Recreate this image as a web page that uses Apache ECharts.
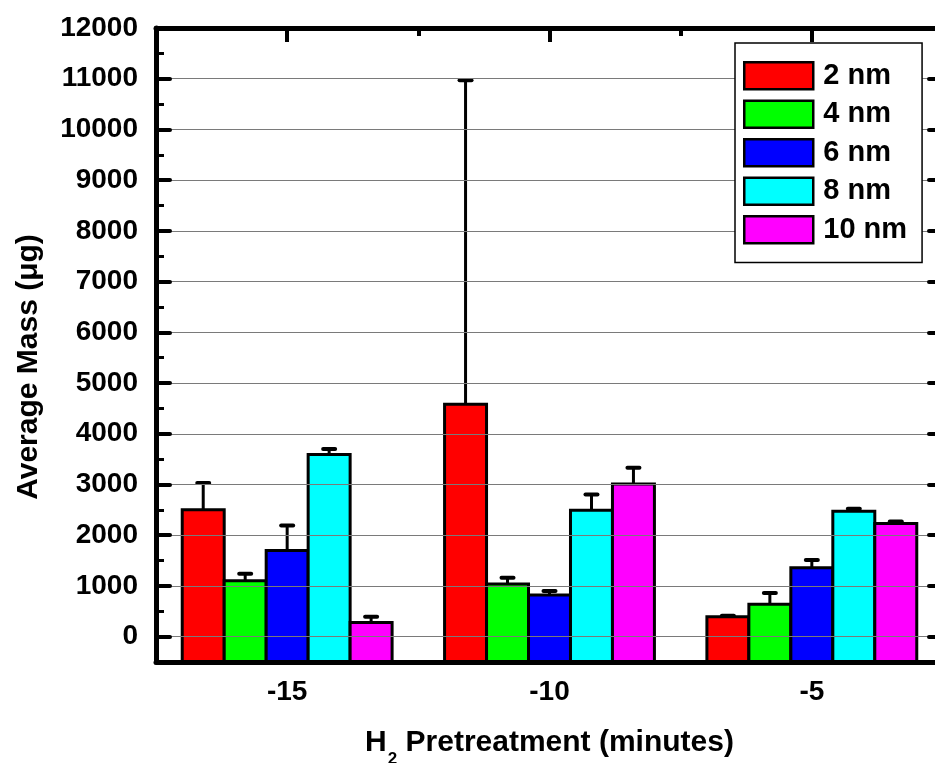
<!DOCTYPE html>
<html>
<head>
<meta charset="utf-8">
<script src="https://cdn.jsdelivr.net/npm/echarts@6/dist/echarts.min.js"></script>
<style>
  html, body { margin: 0; padding: 0; background: #fff; overflow: hidden; }
  #chart { width: 935px; height: 763px; }
</style>
</head>
<body>
<div id="chart"></div>
<script>
// Pretreatment times (minutes) on the category axis
const categories = ['-15', '-10', '-5'];

// Film thicknesses, one bar series each
const sizeNames = ['2 nm', '4 nm', '6 nm', '8 nm', '10 nm'];
const sizeColors = ['#ff0000', '#00ff00', '#0000ff', '#00ffff', '#ff00ff'];

// Average mass (µg) per pretreatment time
const mass2nm = [2500, 4580, 390];
const mass4nm = [1100, 1040, 640];
const mass6nm = [1700, 820, 1360];
const mass8nm = [3590, 2490, 2470];
const mass10nm = [280, 3010, 2230];

// Upper error (µg) per pretreatment time
const err2nm = [530, 6390, 20];
const err4nm = [140, 120, 220];
const err6nm = [490, 80, 150];
const err8nm = [110, 310, 50];
const err10nm = [110, 320, 40];

const Y_MIN = -500;
const Y_MAX = 12000;

const massSets = [mass2nm, mass4nm, mass6nm, mass8nm, mass10nm];
const errSets = [err2nm, err4nm, err6nm, err8nm, err10nm];

const FONT = "'Liberation Sans', Arial, sans-serif";
const GROUP_SHARE = 0.8; // part of each category band filled by its bars

function makeSeries(k) {
  const data = categories.map((c, i) => [i, massSets[k][i], errSets[k][i]]);
  return {
    name: sizeNames[k],
    type: 'custom',
    z: 3,
    encode: { x: 0, y: 1 },
    itemStyle: { color: sizeColors[k], borderColor: '#000', borderWidth: 3 },
    data: data,
    renderItem: function (params, api) {
      const ci = api.value(0);
      const v = api.value(1);
      const e = api.value(2);
      const band = api.size([1, 0])[0];
      const bw = band * GROUP_SHARE / sizeNames.length;
      const topPt = api.coord([ci, v]);
      const basePt = api.coord([ci, Y_MIN]);
      const errPt = api.coord([ci, v + e]);
      const x0 = topPt[0] - band * GROUP_SHARE / 2 + k * bw;
      const xc = x0 + bw / 2;
      return {
        type: 'group',
        children: [
          {
            type: 'rect',
            shape: { x: x0, y: topPt[1], width: bw, height: basePt[1] - topPt[1] },
            style: { fill: sizeColors[k], stroke: '#000', lineWidth: 3 }
          },
          {
            type: 'line',
            shape: { x1: xc, y1: topPt[1], x2: xc, y2: errPt[1] },
            style: { stroke: '#000', lineWidth: 3 }
          },
          {
            type: 'line',
            shape: { x1: xc - 6, y1: errPt[1], x2: xc + 6, y2: errPt[1] },
            style: { stroke: '#000', lineWidth: 4, lineCap: 'round' }
          }
        ]
      };
    }
  };
}

const valueAxisBase = {
  type: 'value',
  min: Y_MIN,
  max: Y_MAX,
  splitNumber: 12,
  minInterval: 1000,
  maxInterval: 1000,
  axisLine: { show: true, onZero: false, lineStyle: { color: '#000', width: 5 } },
  axisTick: { show: true, inside: true, length: 14, lineStyle: { color: '#000', width: 4, cap: 'round' } },
  minorTick: { show: true, splitNumber: 2, length: 8, lineStyle: { color: '#000', width: 3 } },
  z: 6
};

const chart = echarts.init(document.getElementById('chart'), null, { renderer: 'canvas' });

chart.setOption({
  backgroundColor: '#fff',
  animation: false,
  grid: { left: 156, right: -8, top: 28, bottom: 101, outerBoundsMode: 'none', containLabel: false },
  legend: {
    data: sizeNames,
    orient: 'vertical',
    left: 735,
    top: 43,
    padding: [18, 15, 18, 8],
    itemWidth: 69,
    itemHeight: 27,
    itemGap: 9,
    icon: 'rect',
    backgroundColor: '#fff',
    borderColor: '#000',
    borderWidth: 1.5,
    borderRadius: 0,
    itemStyle: { borderColor: '#000', borderWidth: 2.5 },
    textStyle: { fontFamily: FONT, fontWeight: 'bold', fontSize: 29, color: '#000', padding: [0, 0, 0, 5] },
    z: 10
  },
  xAxis: [
    {
      type: 'category',
      data: categories,
      position: 'bottom',
      axisLine: { show: true, onZero: false, lineStyle: { color: '#000', width: 5 } },
      axisTick: { show: false },
      axisLabel: { fontFamily: FONT, fontWeight: 'bold', fontSize: 28, color: '#000', margin: 16 },
      name: '{m|H}{s|2}{m| Pretreatment (minutes)}',
      nameLocation: 'middle',
      nameGap: 66,
      nameTextStyle: {
        rich: {
          m: { fontFamily: FONT, fontWeight: 'bold', fontSize: 30, color: '#000' },
          s: { fontFamily: FONT, fontWeight: 'bold', fontSize: 17, color: '#000', verticalAlign: 'bottom', padding: [0, 0, -10, 1] }
        }
      },
      z: 6
    },
    {
      type: 'category',
      data: categories,
      position: 'top',
      axisLine: { show: true, onZero: false, lineStyle: { color: '#000', width: 5 } },
      axisTick: { show: true, inside: true, alignWithLabel: true, length: 14, lineStyle: { color: '#000', width: 4 } },
      axisLabel: { show: false },
      z: 6
    },
    {
      type: 'category',
      data: categories,
      position: 'top',
      offset: 0,
      axisLine: { show: false, onZero: false },
      axisTick: { show: true, inside: true, length: 8, lineStyle: { color: '#000', width: 4 } },
      axisLabel: { show: false },
      z: 6
    }
  ],
  yAxis: [
    Object.assign({}, valueAxisBase, {
      position: 'left',
      axisLabel: {
        fontFamily: FONT, fontWeight: 'bold', fontSize: 28, color: '#000', margin: 18,
        formatter: function (v) { return v < 0 ? '' : String(v); }
      },
      splitLine: { show: true, lineStyle: { color: '#7a7a7a', width: 1 } },
      name: 'Average Mass (\u03bcg)',
      nameLocation: 'middle',
      nameGap: 112,
      nameTextStyle: { fontFamily: FONT, fontWeight: 'bold', fontSize: 30, color: '#000', padding: [0, 44, 0, 0] }
    }),
    Object.assign({}, valueAxisBase, {
      position: 'right',
      axisLabel: { show: false },
      splitLine: { show: false }
    })
  ],
  series: sizeNames.map((n, k) => makeSeries(k))
});
</script>
</body>
</html>
